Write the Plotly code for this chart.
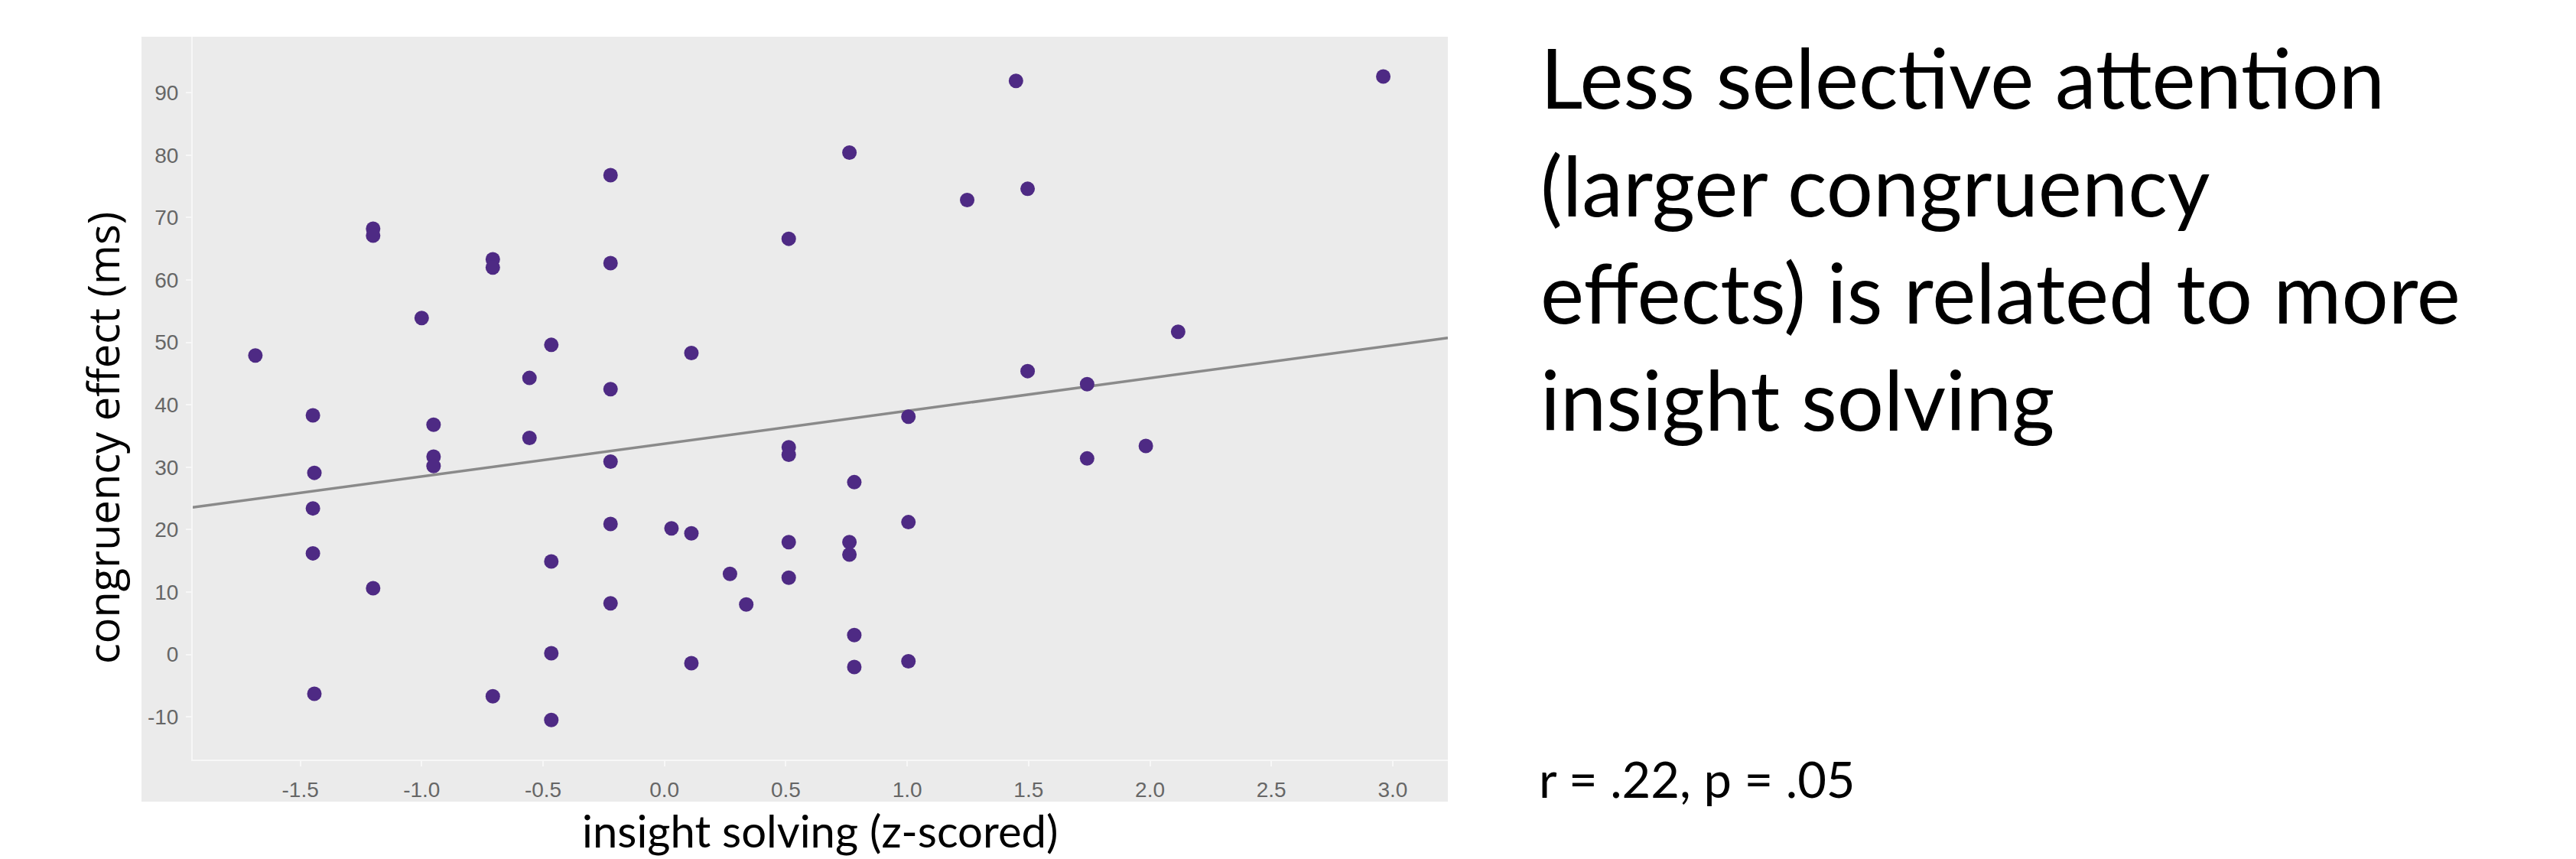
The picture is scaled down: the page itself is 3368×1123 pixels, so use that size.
import numpy as np
import plotly.graph_objects as go

# ---- data ----
insight_z = [-1.685, -1.448, -1.442, -1.448, -1.448, -1.442,
             -1.200, -1.200, -1.200, -1.000, -0.951, -0.951, -0.951,
             -0.707, -0.707, -0.707, -0.556, -0.556,
             -0.466, -0.466, -0.466, -0.466,
             -0.222, -0.222, -0.222, -0.222, -0.222, -0.222,
             0.029, 0.111, 0.111, 0.111, 0.270, 0.337,
             0.512, 0.512, 0.512, 0.512, 0.512,
             0.762, 0.782, 0.762, 0.762, 0.782, 0.782,
             1.005, 1.005, 1.005, 1.247, 1.448, 1.496, 1.496,
             1.741, 1.741, 1.983, 2.116, 2.961]
congruency_ms = [47.9, 38.3, 29.1, 23.4, 16.2, -6.3,
                 68.2, 67.1, 10.6, 53.9, 36.8, 31.7, 30.2,
                 63.3, 62.0, -6.7, 44.3, 34.7,
                 49.6, 14.9, 0.2, -10.5,
                 76.8, 62.7, 42.5, 30.9, 20.9, 8.2,
                 20.2, 48.3, 19.4, -1.4, 12.9, 8.0,
                 66.6, 33.2, 32.0, 18.0, 12.3,
                 80.4, 27.6, 18.0, 16.0, 3.1, -2.0,
                 38.1, 21.2, -1.1, 72.8, 91.9, 74.6, 45.4,
                 43.3, 31.4, 33.4, 51.7, 92.6]
x_ticks = [-1.5, -1.0, -0.5, 0.0, 0.5, 1.0, 1.5, 2.0, 2.5, 3.0]
x_tick_labels = ["-1.5", "-1.0", "-0.5", "0.0", "0.5", "1.0", "1.5", "2.0", "2.5", "3.0"]
y_ticks = [-10, 0, 10, 20, 30, 40, 50, 60, 70, 80, 90]
y_tick_labels = ["-10", "0", "10", "20", "30", "40", "50", "60", "70", "80", "90"]
x_range = [-1.943, 3.227]
y_range = [-16.84, 98.97]
title_lines = ["Less selective attention", "(larger congruency", "effects) is related to more", "insight solving"]
stat_text = "r = .22, p = .05"

# ---- layout geometry (pixels) ----
W, H = 3368, 1123
L, R, T, B = 252, 1893, 48, 993
PW, PH = R - L, B - T

def pxx(p):
    return (p - L) / PW

def pxy(p):
    return (B - p) / PH

# regression line fitted from data
slope, intercept = np.polyfit(insight_z, congruency_ms, 1)
fit_x = np.array(x_range)
fit_y = intercept + slope * fit_x

fig = go.Figure()
fig.add_trace(go.Scatter(x=fit_x, y=fit_y, mode="lines",
                         line=dict(color="#8a8a8a", width=3.5),
                         hoverinfo="skip", showlegend=False))
fig.add_trace(go.Scatter(x=insight_z, y=congruency_ms, mode="markers",
                         marker=dict(color="#4E2A84", size=19, line=dict(width=0)),
                         showlegend=False))

axis_common = dict(showgrid=False, zeroline=False, showline=True,
                   linecolor="#F7F7F7", linewidth=2,
                   ticks="outside", ticklen=7, tickwidth=2, tickcolor="#F7F7F7",
                   tickfont=dict(family="Liberation Sans", size=28, color="#666666"))

fig.update_xaxes(range=x_range, tickvals=x_ticks, ticktext=x_tick_labels,
                 ticklabelstandoff=6, **axis_common)
fig.update_yaxes(range=y_range, tickvals=y_ticks, ticktext=y_tick_labels,
                 ticklabelstandoff=4, **axis_common)

shapes = [dict(type="rect", xref="paper", yref="paper",
               x0=pxx(185), x1=1.0, y0=pxy(1048), y1=1.0,
               fillcolor="#EBEBEB", line=dict(width=0), layer="below")]

annotations = [
    dict(text="congruency effect (ms)", textangle=-90, xref="paper", yref="paper",
         x=pxx(134), y=pxy(573), xanchor="center", yanchor="middle", showarrow=False,
         font=dict(family="Open Sans", size=56, color="black")),
    dict(text="insight solving (z-scored)", xref="paper", yref="paper",
         x=pxx(1072), y=pxy(1085), xanchor="center", yanchor="middle", showarrow=False,
         font=dict(family="Lato", size=58, color="black")),
    dict(text=stat_text, xref="paper", yref="paper",
         x=pxx(2010), y=pxy(1018), xanchor="left", yanchor="middle", showarrow=False,
         font=dict(family="Lato", size=65, color="black")),
]
baselines = [136, 277, 417, 557]
for line, bl in zip(title_lines, baselines):
    annotations.append(dict(text=line, xref="paper", yref="paper",
                            x=pxx(2012), y=pxy(bl - 36), xanchor="left", yanchor="middle",
                            showarrow=False,
                            font=dict(family="Lato", size=108, color="black")))

fig.update_layout(width=W, height=H,
                  margin=dict(l=L, r=W - R, t=T, b=H - B, pad=0),
                  paper_bgcolor="white", plot_bgcolor="#EBEBEB",
                  shapes=shapes, annotations=annotations)

fig.write_html("out.html", config={"displayModeBar": False},
               post_script="document.body.style.margin='0px';document.body.style.overflow='hidden';")
